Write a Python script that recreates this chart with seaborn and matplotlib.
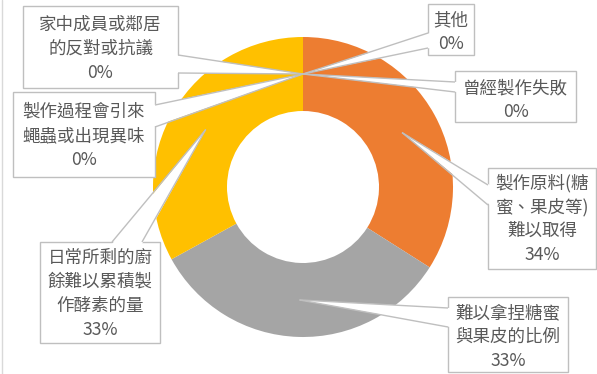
import matplotlib
matplotlib.use("Agg")
import matplotlib.pyplot as plt
import seaborn as sns
import numpy as np
from matplotlib.patches import Rectangle, Polygon

# Data (order of the slices, clockwise from 12 o'clock)
categories = [
    "曾經製作失敗",
    "製作原料(糖\n蜜、果皮等)\n難以取得",
    "難以拿捏糖蜜\n與果皮的比例",
    "日常所剩的廚\n餘難以累積製\n作酵素的量",
    "製作過程會引來\n蠅蟲或出現異味",
    "家中成員或鄰居\n的反對或抗議",
    "其他",
]
values = [0, 34, 33, 33, 0, 0, 0]
colors = ["#4472C4", "#ED7D31", "#A5A5A5", "#FFC000", "#5B9BD5", "#70AD47", "#264478"]

# Layout in pixels (y measured from the top of the image)
W, H = 597, 374
CENTER = (303, 187)
R_OUT, R_IN = 150, 76

# callout box (x0, y0, x1, y1), side of the box the pointer leaves from, pointer base span, first text line y
callouts = {
    0: ((455, 71, 576, 122), "left", (82, 92), 88),
    1: ((488, 168, 596, 269), "left", (185, 205), 183),
    2: ((448, 297, 568, 372), "left", (308, 327), 313),
    3: ((40, 242, 160, 343), "top", (112, 142), 258),
    4: ((13, 92, 155, 177), "right", (105, 127), 112),
    5: ((23, 6, 178, 88), "right", (55, 73), 25),
    6: ((428, 4, 474, 55), "left", (33, 48), 20),
}
LINE_STEP = 24
EDGE = "#BFBFBF"
TEXT = "#595959"


def fy(y):
    """pixel y (top-down) -> data y (bottom-up)"""
    return H - y


def slice_tips(vals):
    total = float(sum(vals))
    cum = np.concatenate([[0], np.cumsum(vals)])
    r_mid = (R_OUT + R_IN) / 2
    tips = []
    for i, v in enumerate(vals):
        theta = np.deg2rad(360 * (cum[i] + v / 2) / total)
        tips.append((CENTER[0] + r_mid * np.sin(theta), fy(CENTER[1]) + r_mid * np.cos(theta)))
    return tips


def draw_callout(ax, box, side, span, first_y, tip, lines):
    x0, y0, x1, y1 = box
    ax.add_patch(Rectangle((x0, fy(y1)), x1 - x0, y1 - y0, fc="white", ec=EDGE, lw=1, zorder=3))

    if side == "left":
        b = [(x0, fy(span[0])), (x0, fy(span[1]))]
        b_in = [(x0 + 2, p[1]) for p in b]
    elif side == "right":
        b = [(x1, fy(span[0])), (x1, fy(span[1]))]
        b_in = [(x1 - 2, p[1]) for p in b]
    else:
        b = [(span[0], fy(y0)), (span[1], fy(y0))]
        b_in = [(p[0], fy(y0 + 2)) for p in b]

    ax.add_patch(Polygon([b_in[0], b_in[1], tip], closed=True, fc="white", ec="none", zorder=4))
    for p in b:
        ax.plot([p[0], tip[0]], [p[1], tip[1]], color=EDGE, lw=1, zorder=5, solid_capstyle="butt")

    cx = (x0 + x1) / 2
    for k, line in enumerate(lines):
        ax.text(cx, fy(first_y + k * LINE_STEP), line, ha="center", va="center",
                fontsize=12.6, color=TEXT, fontweight="light", zorder=6)


def main():
    sns.set_theme(style="white")
    plt.rcParams["font.family"] = ["Noto Sans CJK TC", "DejaVu Sans"]

    fig = plt.figure(figsize=(W / 100, H / 100), dpi=100)
    ax = fig.add_axes([0, 0, 1, 1])

    ax.pie(
        values,
        colors=colors,
        startangle=90,
        counterclock=False,
        radius=R_OUT,
        center=(CENTER[0], fy(CENTER[1])),
        wedgeprops=dict(width=R_OUT - R_IN, linewidth=0),
    )

    total = sum(values)
    tips = slice_tips(values)
    for i, name in enumerate(categories):
        box, side, span, first_y = callouts[i]
        pct = f"{round(100 * values[i] / total)}%"
        draw_callout(ax, box, side, span, first_y, tips[i], name.split("\n") + [pct])

    # chart area border on the left edge
    ax.plot([2, 2], [0, H], color="#D9D9D9", lw=1, zorder=1)

    ax.set_xlim(0, W)
    ax.set_ylim(0, H)
    ax.set_aspect("auto")
    ax.axis("off")

    fig.savefig("out.png", dpi=100, facecolor="white")


if __name__ == "__main__":
    main()
